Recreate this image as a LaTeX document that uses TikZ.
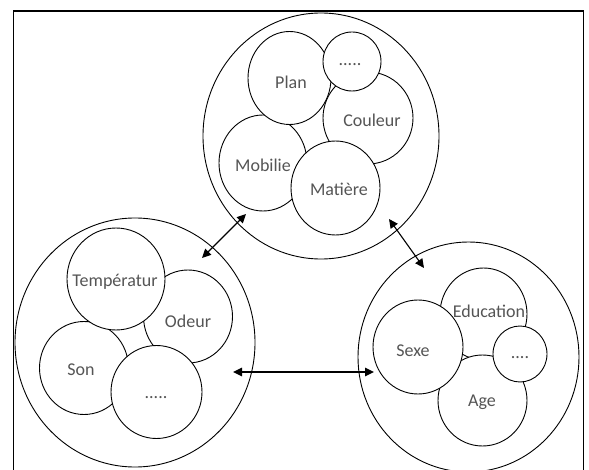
\documentclass[tikz,border=0pt]{standalone}
\usepackage{fontspec}
\setmainfont{Carlito}
\usetikzlibrary{shapes.geometric,arrows.meta}
\definecolor{txtgray}{RGB}{85,85,85}
\begin{document}
\begin{tikzpicture}[x=1pt,y=-1pt,
  bub/.style={ellipse,draw=black,line width=0.9pt,fill=white,inner sep=0pt,outer sep=0pt},
  lbl/.style={font=\fontsize{18}{21}\selectfont,text=txtgray,inner sep=0pt},
  dots/.style={font=\fontsize{18}{21}\selectfont,text=txtgray,inner sep=0pt,anchor=base},
  dblarrow/.style={line width=1.1pt,{Triangle[length=9pt,width=8.5pt]}-{Triangle[length=9pt,width=8.5pt]}}]
\clip (0,0) rectangle (589,470);
\fill[white] (0,0) rectangle (589,470);
\draw[line width=1.4pt] (13.3,490) -- (13.3,11) -- (583.7,11) -- (583.7,490);

% top group
\node[bub,minimum width=236pt,minimum height=246pt] (outerT) at (321,136) {};
\node[bub,minimum width=88pt,minimum height=96pt] (mobT) at (263,163) {};
\node[bub,minimum width=90pt,minimum height=92pt] (coulT) at (368,118) {};
\node[bub,minimum width=83pt,minimum height=93pt] (planT) at (289.5,78) {};
\node[bub,minimum width=58pt,minimum height=59pt] (dotT) at (352,61.5) {};
\node[bub,minimum width=89pt,minimum height=94pt] (matT) at (335.5,188) {};
\node[lbl] (tMob) at (263,165) {Mobilie};
\node[lbl] (tCoul) at (372,120) {Couleur};
\node[lbl] (tPlan) at (291,82) {Plan};
\node[dots] (tDotT) at (350,66) {.....};
\node[lbl] (tMat) at (339,189) {Matière};

% left group
\node[bub,minimum width=240pt,minimum height=249pt] (outerL) at (135,342.5) {};
\node[bub,minimum width=89pt,minimum height=93pt] (sonL) at (84,368) {};
\node[bub,minimum width=89pt,minimum height=93pt] (odeL) at (188,316.5) {};
\node[bub,minimum width=98pt,minimum height=102pt] (tempL) at (116,279) {};
\node[bub,minimum width=91pt,minimum height=93pt] (dotL) at (156.5,392) {};
\node[lbl] (tSon) at (81,370) {Son};
\node[lbl] (tOde) at (188,321) {Odeur};
\node[lbl] (tTemp) at (115,281.7) {Températur};
\node[dots] (tDotL) at (156,398) {.....};

% right group
\node[bub,minimum width=221pt,minimum height=230pt] (outerR) at (468.5,357) {};
\node[bub,minimum width=87pt,minimum height=92pt] (eduR) at (483.5,314) {};
\node[bub,minimum width=89pt,minimum height=91pt] (ageR) at (482.5,400.5) {};
\node[bub,minimum width=90pt,minimum height=94pt] (sexR) at (418,347) {};
\node[bub,minimum width=54pt,minimum height=56pt] (dotR) at (520,354) {};
\node[lbl] (tEdu) at (489,311) {Education};
\node[lbl] (tAge) at (482,402) {Age};
\node[lbl] (tSex) at (413,351) {Sexe};
\node[dots] (tDotR) at (520,358) {....};

% arrows
\coordinate (a1) at (246,214);
\coordinate (a2) at (202,258);
\coordinate (b1) at (389,219);
\coordinate (b2) at (424,268);
\coordinate (c1) at (233,372);
\coordinate (c2) at (374,372);
\draw[dblarrow] (a1) -- (a2);
\draw[dblarrow] (b1) -- (b2);
\draw[dblarrow,line width=1.5pt] (c1) -- (c2);
\end{tikzpicture}
\end{document}
